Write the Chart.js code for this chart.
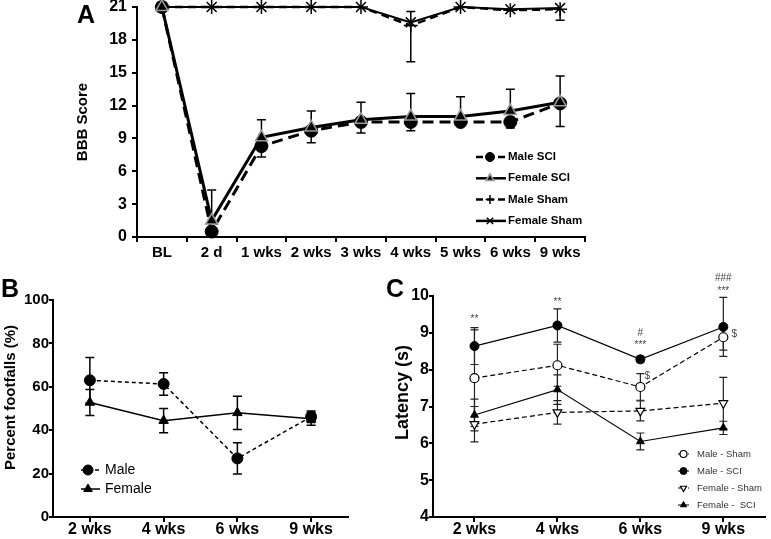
<!DOCTYPE html>
<html><head><meta charset="utf-8">
<script src="https://cdn.jsdelivr.net/npm/chart.js@4.4.1/dist/chart.umd.min.js"></script>
<style>
html,body{margin:0;padding:0;background:#fff;width:771px;height:539px;overflow:hidden;position:relative;font-family:"Liberation Sans",Arial,Helvetica,sans-serif;}
canvas{position:absolute;}
.lbl{position:absolute;font-weight:bold;font-size:25px;line-height:1;color:#000;z-index:5;}
</style></head><body>
<canvas id="cA" width="610" height="290" style="left:0;top:-10px"></canvas>
<canvas id="cB" width="380" height="280" style="left:0;top:270px"></canvas>
<canvas id="cC" width="391" height="280" style="left:380px;top:270px"></canvas>
<div class="lbl" style="left:77px;top:2px">A</div>
<div class="lbl" style="left:1px;top:276px">B</div>
<div class="lbl" style="left:386px;top:276px">C</div>
<script>
// ---------- Panel A data ----------
const catA = ['BL','2 d','1 wks','2 wks','3 wks','4 wks','5 wks','6 wks','9 wks'];
const ticksA = [0,3,6,9,12,15,18,21];
const maleSciA = [21,0.5,8.3,9.7,10.5,10.5,10.5,10.5,12.2];
const maleSciAErrDown = [0,0,1.0,1.1,1.0,0.8,0.3,0.55,2.1];
const femaleSciA = [21,1.5,9.1,10.0,10.7,11.0,11.0,11.5,12.3];
const femaleSciAErrUp = [0,2.8,1.6,1.5,1.6,2.1,1.8,2.0,2.4];
const maleShamA = [21,21,21,21,21,19.3,21,20.7,20.8];
const maleShamAErrDown = [0,0,0,0,0,3.3,0,0,1.0];
const femaleShamA = [21,21,21,21,21,19.6,21,20.8,20.9];
const femaleShamAErrUp = [0,0,0,0,0,1.0,0,0,0];

// ---------- Panel B data ----------
const catB = ['2 wks','4 wks','6 wks','9 wks'];
const ticksB = [0,20,40,60,80,100];
const maleB = [63.0,61.3,27.0,46.2];
const maleBErr = [10.5,5.2,7.2,2.7];
const femaleB = [52.8,44.4,48.0,45.3];
const femaleBErr = [6.0,5.6,7.7,3.0];

// ---------- Panel C data ----------
const catC = ['2 wks','4 wks','6 wks','9 wks'];
const ticksC = [4,5,6,7,8,9,10];
const maleShamC = [7.77,8.12,7.53,8.88];
const maleShamCErr = [1.31,0.57,0.36,0.35];
const maleSciC = [8.64,9.20,8.28,9.16];
const maleSciCErr = [0.50,0.45,0.09,0.80];
const femaleShamC = [6.52,6.84,6.88,7.09];
const femaleShamCErr = [0.48,0.32,0.27,0.70];
const femaleSciC = [6.77,7.46,6.05,6.42];
const femaleSciCErr = [0.43,0.40,0.23,0.18];
const annotTexts = ['**','**','#','***','###','***','$','$'];
const annotCats = [0,1,2,2,3,3,2,3];
const annotValues = [9.36,9.82,9.0,8.67,10.47,10.14,7.81,8.96];

const FONT = '"Liberation Sans", Arial, Helvetica, sans-serif';
Chart.defaults.font.family = FONT;
Chart.defaults.color = '#000';

const errorBars = {
  id: 'errorBars',
  beforeDatasetsDraw(chart, args, o) {
    const ctx = chart.ctx, ys = chart.scales.y;
    ctx.save();
    ctx.strokeStyle = o.color; ctx.lineWidth = o.width; ctx.setLineDash([]);
    chart.data.datasets.forEach((ds, i) => {
      const meta = chart.getDatasetMeta(i);
      meta.data.forEach((pt, j) => {
        const v = ds.data[j];
        const up = ds.errUp ? ds.errUp[j] : 0;
        const dn = ds.errDown ? ds.errDown[j] : 0;
        if (!up && !dn) return;
        const x = pt.x, yU = ys.getPixelForValue(v + up), yD = ys.getPixelForValue(v - dn);
        ctx.beginPath();
        ctx.moveTo(x, yU); ctx.lineTo(x, yD);
        if (up) { ctx.moveTo(x - o.cap, yU); ctx.lineTo(x + o.cap, yU); }
        if (dn) { ctx.moveTo(x - o.cap, yD); ctx.lineTo(x + o.cap, yD); }
        ctx.stroke();
      });
    });
    ctx.restore();
  }
};

function pointAt(ctx, opts, x, y) {
  if (Chart.helpers && Chart.helpers.drawPoint) { Chart.helpers.drawPoint(ctx, opts, x, y); return; }
  ctx.beginPath(); ctx.arc(x, y, opts.radius, 0, Math.PI*2); ctx.fill(); ctx.stroke();
}

const customLegend = {
  id: 'customLegend',
  afterDraw(chart, args, o) {
    const ctx = chart.ctx;
    ctx.save();
    chart.data.datasets.forEach((ds, i) => {
      const y = o.y0 + o.dy * i;
      ctx.strokeStyle = ds.borderColor; ctx.lineWidth = o.lineWidth;
      ctx.setLineDash(ds.borderDash && ds.borderDash.length ? o.dash : []);
      ctx.beginPath(); ctx.moveTo(o.x0, y); ctx.lineTo(o.x1, y); ctx.stroke();
      ctx.setLineDash([]);
      ctx.fillStyle = ds.pointBackgroundColor; ctx.strokeStyle = ds.pointBorderColor;
      ctx.lineWidth = ds.pointBorderWidth;
      pointAt(ctx, {pointStyle: ds.pointStyle, radius: o.radius, rotation: ds.pointRotation || 0, borderWidth: ds.pointBorderWidth}, o.xm, y);
      ctx.fillStyle = o.color; ctx.font = o.font; ctx.textAlign = 'left'; ctx.textBaseline = 'middle';
      ctx.fillText(ds.label, o.xt, y);
    });
    ctx.restore();
  }
};

const annot = {
  id: 'annot',
  afterDatasetsDraw(chart, args, o) {
    if (!o.texts) return;
    const ctx = chart.ctx, xs = chart.scales.x, ys = chart.scales.y;
    ctx.save();
    ctx.font = o.font; ctx.fillStyle = o.color; ctx.textAlign = 'center'; ctx.textBaseline = 'middle';
    o.texts.forEach((t, k) => {
      ctx.fillText(t, xs.getPixelForValue(o.cats[k]) + (o.dx[k] || 0), ys.getPixelForValue(o.values[k]));
    });
    ctx.restore();
  }
};

// vertical axis title placed at a given offset from the plot's vertical centre
const yTitle = {
  id: 'yTitle',
  afterDraw(chart, args, o) {
    if (!o.text) return;
    const ctx = chart.ctx, ca = chart.chartArea;
    ctx.save();
    ctx.translate(o.x, (ca.top + ca.bottom) / 2 + o.shift);
    ctx.rotate(-Math.PI / 2);
    ctx.font = o.font; ctx.fillStyle = '#000'; ctx.textAlign = 'center'; ctx.textBaseline = 'middle';
    ctx.fillText(o.text, 0, 0);
    ctx.restore();
  }
};

function axisCommon(tickFont, tl, pad) {
  return {
    ticks: {color: '#000', font: tickFont, padding: pad, autoSkip: false, maxRotation: 0},
    grid: {drawOnChartArea: false, drawTicks: true, tickLength: tl, color: '#000', lineWidth: 2},
    border: {display: true, color: '#000', width: 2}
  };
}

function line(label, data, o) {
  return Object.assign({
    label, data, borderColor: '#000', backgroundColor: '#000', tension: 0, clip: false,
    pointBorderColor: '#000', pointBackgroundColor: '#000', pointHoverRadius: 0
  }, o);
}

// ---------- Chart A ----------
const xA = axisCommon({size: 15, weight: 'bold', lineHeight: 1}, 5, 3);
xA.offset = true;
xA.grid.offset = true;
xA.afterFit = s => { s.height = 43; };
const yA = axisCommon({size: 16, weight: 'bold', lineHeight: 1}, 5, 5);
Object.assign(yA, {
  min: 0, max: 21,
  afterBuildTicks: s => { s.ticks = ticksA.map(v => ({value: v})); },
  afterFit: s => { s.width = 137; },
  title: {display: true, text: 'BBB Score', color: '#000', font: {size: 15, weight: 'bold'}, padding: {top: 74, bottom: 0}}
});
new Chart(document.getElementById('cA'), {
  type: 'line',
  data: {
    labels: catA,
    datasets: [
      line('Male SCI', maleSciA, {errDown: maleSciAErrDown, borderWidth: 3, borderDash: [11, 6], pointStyle: 'circle', pointRadius: 6.5, pointBorderWidth: 1, order: 1}),
      line('Female SCI', femaleSciA, {errUp: femaleSciAErrUp, borderWidth: 3, pointStyle: 'triangle', pointRadius: 7, pointBorderColor: '#9a9a9a', pointBorderWidth: 1.5, order: 0}),
      line('Male Sham', maleShamA, {errDown: maleShamAErrDown, borderWidth: 2.5, borderDash: [8, 5], pointStyle: 'cross', pointRadius: 7, pointBorderWidth: 1.5, order: 3}),
      line('Female Sham', femaleShamA, {errUp: femaleShamAErrUp, borderWidth: 2, pointStyle: 'crossRot', pointRadius: 7, pointBorderWidth: 1.5, order: 2})
    ]
  },
  options: {
    responsive: false, animation: false, devicePixelRatio: 1,
    layout: {padding: {left: 0, top: 17, right: 25, bottom: 0}},
    scales: {x: xA, y: yA},
    plugins: {
      legend: {display: false}, tooltip: {enabled: false},
      errorBars: {color: '#000', width: 1.5, cap: 4.5},
      customLegend: {x0: 476, x1: 506, xm: 490, xt: 508, y0: 167, dy: 21.3, radius: 4.5, lineWidth: 2.5, dash: [7, 4], font: 'bold 11.5px ' + FONT, color: '#000'}
    }
  },
  plugins: [errorBars, customLegend]
});

// ---------- Chart B ----------
const xB = axisCommon({size: 16, weight: 'bold', lineHeight: 1}, 5, 0);
xB.offset = true;
xB.grid.offset = false;
xB.afterFit = s => { s.height = 22; };
const yB = axisCommon({size: 15, weight: 'bold', lineHeight: 1}, 4, 0);
Object.assign(yB, {
  min: 0, max: 100,
  afterBuildTicks: s => { s.ticks = ticksB.map(v => ({value: v})); },
  afterFit: s => { s.width = 53; }
});
new Chart(document.getElementById('cB'), {
  type: 'line',
  data: {
    labels: catB,
    datasets: [
      line('Male', maleB, {errUp: maleBErr, errDown: maleBErr, borderWidth: 1.5, borderDash: [4, 3], pointStyle: 'circle', pointRadius: 5.5, pointBorderWidth: 1}),
      line('Female', femaleB, {errUp: femaleBErr, errDown: femaleBErr, borderWidth: 1.5, pointStyle: 'triangle', pointRadius: 5.5, pointBorderWidth: 1})
    ]
  },
  options: {
    responsive: false, animation: false, devicePixelRatio: 1,
    layout: {padding: {left: 0, top: 30, right: 32, bottom: 11}},
    scales: {x: xB, y: yB},
    plugins: {
      legend: {display: false}, tooltip: {enabled: false},
      errorBars: {color: '#000', width: 1.5, cap: 4.5},
      customLegend: {x0: 81, x1: 100, xm: 88, xt: 105, y0: 200, dy: 19, radius: 5, lineWidth: 1.5, dash: [4, 3], font: '14px ' + FONT, color: '#000'},
      yTitle: {text: 'Percent footfalls (%)', x: 11, shift: -11, font: 'bold 15px ' + FONT}
    }
  },
  plugins: [errorBars, customLegend, yTitle]
});

// ---------- Chart C ----------
const xC = axisCommon({size: 16, weight: 'bold', lineHeight: 1}, 5, 0);
xC.offset = true;
xC.grid.offset = false;
xC.afterFit = s => { s.height = 22; };
const yC = axisCommon({size: 16, weight: 'bold', lineHeight: 1}, 4, 0);
Object.assign(yC, {
  min: 4, max: 10,
  afterBuildTicks: s => { s.ticks = ticksC.map(v => ({value: v})); },
  afterFit: s => { s.width = 53; }
});
new Chart(document.getElementById('cC'), {
  type: 'line',
  data: {
    labels: catC,
    datasets: [
      line('Male - Sham', maleShamC, {errUp: maleShamCErr, errDown: maleShamCErr, borderWidth: 1.2, borderDash: [5, 3], pointStyle: 'circle', pointRadius: 4.5, pointBackgroundColor: '#fff', pointBorderWidth: 1.2}),
      line('Male - SCI', maleSciC, {errUp: maleSciCErr, errDown: maleSciCErr, borderWidth: 1.2, pointStyle: 'circle', pointRadius: 4.5, pointBorderWidth: 1}),
      line('Female - Sham', femaleShamC, {errUp: femaleShamCErr, errDown: femaleShamCErr, borderWidth: 1.2, borderDash: [5, 3], pointStyle: 'triangle', pointRotation: 180, pointRadius: 5, pointBackgroundColor: '#fff', pointBorderWidth: 1.2}),
      line('Female -  SCI', femaleSciC, {errUp: femaleSciCErr, errDown: femaleSciCErr, borderWidth: 1.2, pointStyle: 'triangle', pointRadius: 4.5, pointBorderWidth: 1})
    ]
  },
  options: {
    responsive: false, animation: false, devicePixelRatio: 1,
    layout: {padding: {left: 0, top: 26, right: 3, bottom: 11}},
    scales: {x: xC, y: yC},
    plugins: {
      legend: {display: false}, tooltip: {enabled: false},
      errorBars: {color: '#222', width: 1.2, cap: 4},
      customLegend: {x0: 298, x1: 309, xm: 303.5, xt: 317, y0: 184, dy: 17, radius: 3.5, lineWidth: 1, dash: [3, 2], font: '9.5px ' + FONT, color: '#333'},
      annot: {texts: annotTexts, cats: annotCats, values: annotValues, dx: [0, 0, 0, 0, 0, 0, 7, 11], font: '10px ' + FONT, color: '#444'},
      yTitle: {text: 'Latency (s)', x: 23, shift: -14, font: 'bold 18px ' + FONT}
    }
  },
  plugins: [errorBars, customLegend, annot, yTitle]
});
</script>
</body></html>
